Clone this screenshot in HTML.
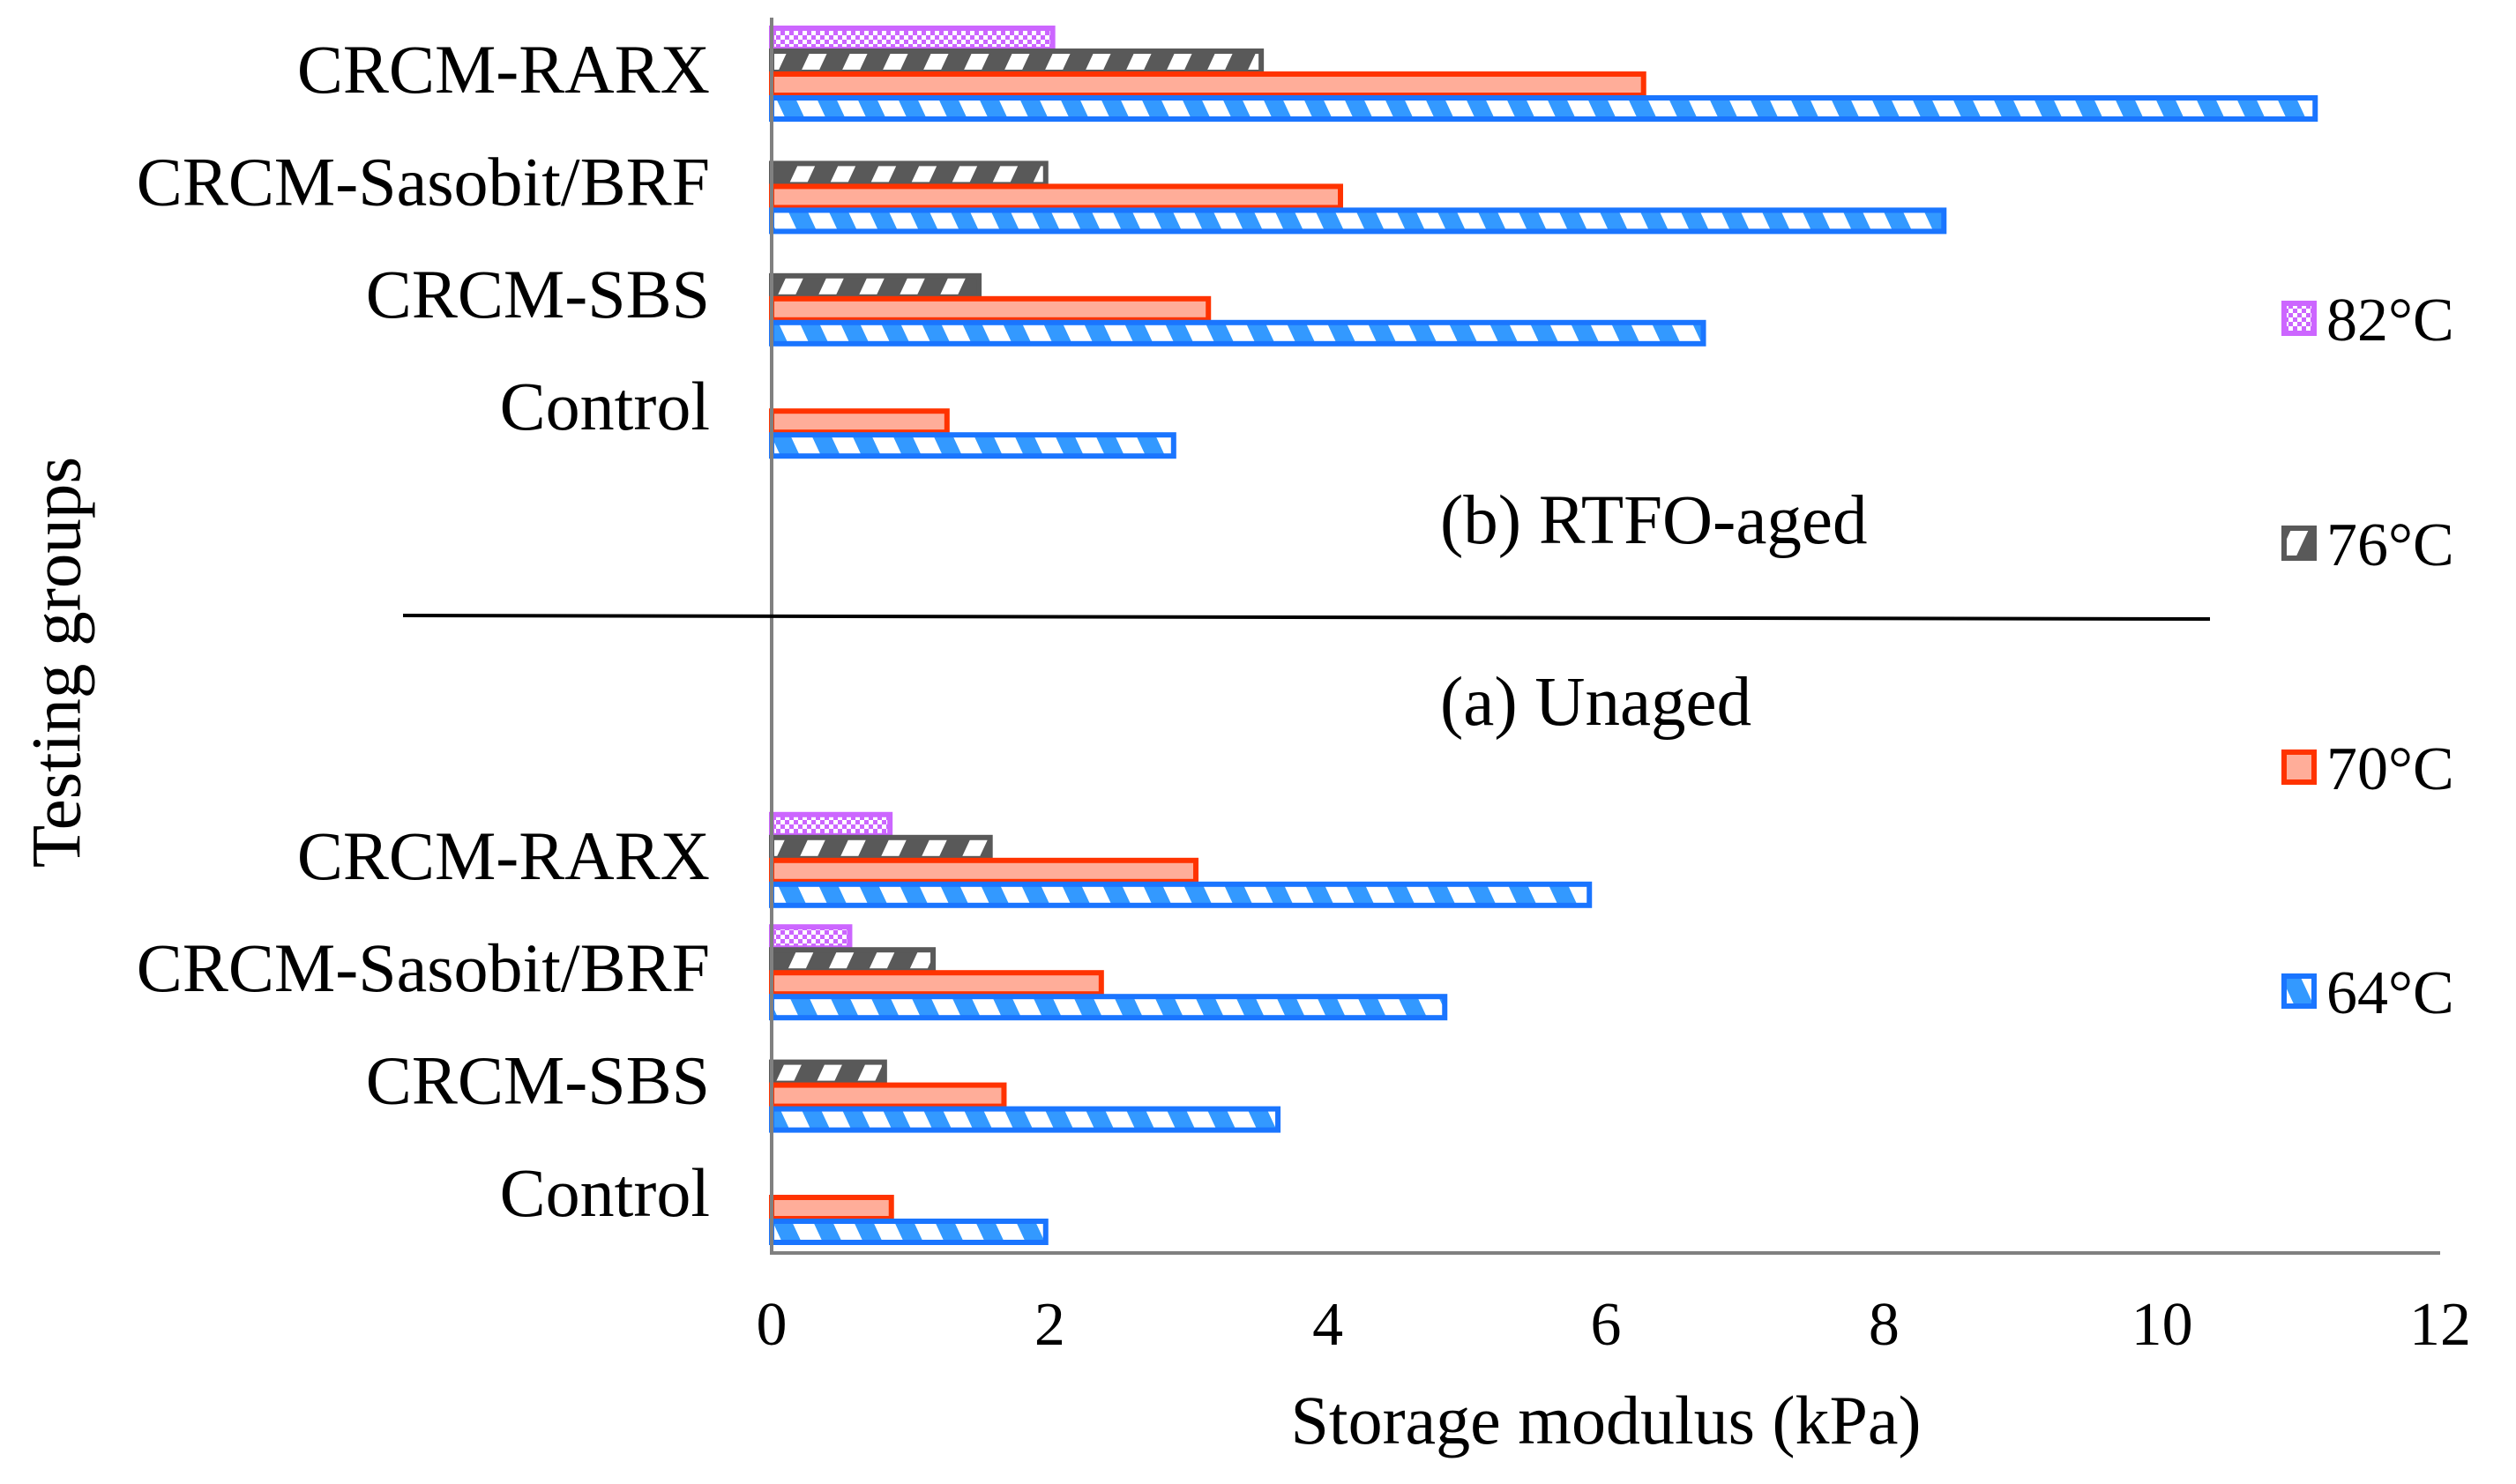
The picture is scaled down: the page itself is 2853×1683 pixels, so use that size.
<!DOCTYPE html>
<html><head><meta charset="utf-8"><style>
html,body{margin:0;padding:0;background:#fff;}
svg{display:block;font-family:"Liberation Serif","DejaVu Serif",serif;}
</style></head>
<body>
<svg id="chart" width="2853" height="1683" viewBox="0 0 2853 1683" xmlns="http://www.w3.org/2000/svg">
<defs>
<pattern id="p64" patternUnits="userSpaceOnUse" width="46" height="30" patternTransform="skewX(25)">
<rect width="46" height="30" fill="#fff"/><rect x="0" width="22" height="30" fill="#3399ff"/></pattern>
<pattern id="p76" patternUnits="userSpaceOnUse" width="46" height="30" patternTransform="skewX(-25)">
<rect width="46" height="30" fill="#fff"/><rect x="0" width="26" height="30" fill="#595959"/></pattern>
<pattern id="p82" patternUnits="userSpaceOnUse" width="10" height="10">
<rect width="10" height="10" fill="#fff"/><rect width="5" height="5" fill="#cc66ff"/><rect x="5" y="5" width="5" height="5" fill="#cc66ff"/></pattern>
</defs>
<g id="bars"></g>
<g id="axes"></g>
<text x="65" y="751" font-size="79" text-anchor="middle" transform="rotate(-90 65 751)" dominant-baseline="central">Testing groups</text>
<text x="1821" y="1637" font-size="78" text-anchor="middle">Storage modulus (kPa)</text>
<line x1="457" y1="698" x2="2506" y2="702" stroke="#000" stroke-width="4"/>
<text x="1633" y="616" font-size="79">(b) RTFO-aged</text>
<text x="1633" y="822" font-size="79">(a) Unaged</text>
<g id="legend"></g>
<script>
const categories = ["CRCM-RARX","CRCM-Sasobit/BRF","CRCM-SBS","Control","","","","CRCM-RARX","CRCM-Sasobit/BRF","CRCM-SBS","Control"];
const seriesNames = ["82°C","76°C","70°C","64°C"];
const v82 = [2.04, 0, 0, 0, 0, 0, 0, 0.87, 0.58, 0, 0];
const v76 = [3.54, 1.99, 1.51, 0, 0, 0, 0, 1.59, 1.18, 0.83, 0];
const v70 = [6.29, 4.11, 3.16, 1.28, 0, 0, 0, 3.07, 2.39, 1.69, 0.88];
const v64 = [11.12, 8.45, 6.72, 2.91, 0, 0, 0, 5.90, 4.86, 3.66, 1.99];
const xTicks = [0,2,4,6,8,10,12];

const NS="http://www.w3.org/2000/svg";
const X0=875, X1=2767, XMAX=12, TOP=29, BAND=127.4;
const xs = v => X0 + (X1-X0)*v/XMAX;
const ys = i => TOP + i*BAND;
const styles=[{fill:"url(#p82)",stroke:"#cc66ff",off:0},{fill:"url(#p76)",stroke:"#595959",off:26},{fill:"#ffad99",stroke:"#ff3300",off:52},{fill:"url(#p64)",stroke:"#1a75ff",off:79}];
const series=[v82,v76,v70,v64];
const bars=document.getElementById('bars');
series.forEach((arr,s)=>{
  arr.forEach((v,i)=>{
    if(!v) return;
    const r=document.createElementNS(NS,'rect');
    r.setAttribute('x',X0); r.setAttribute('y',ys(i)+styles[s].off+3);
    r.setAttribute('width',xs(v)-X0-3); r.setAttribute('height',24);
    r.setAttribute('fill',styles[s].fill); r.setAttribute('stroke',styles[s].stroke); r.setAttribute('stroke-width',6);
    
    
    bars.appendChild(r);
  });
});
const axes=document.getElementById('axes');
function mk(tag,attrs,parent){const e=document.createElementNS(NS,tag);for(const k in attrs)e.setAttribute(k,attrs[k]);parent.appendChild(e);return e;}
const yl=mk('line',{x1:X0,y1:20,x2:X0,y2:1421,stroke:'#808080','stroke-width':4},axes);


const xl=mk('line',{x1:X0-2,y1:1421,x2:X1,y2:1421,stroke:'#808080','stroke-width':4},axes);


xTicks.forEach(t=>{
  const e=mk('text',{x:xs(t),y:1525,'font-size':70,'text-anchor':'middle'},axes);
  e.textContent=t;
  
  
});
categories.forEach((c,i)=>{
  if(!c) return;
  const e=mk('text',{x:805,y:ys(i)+76,'font-size':78,'text-anchor':'end'},axes);
  e.textContent=c;
  
  
});
const leg=document.getElementById('legend');
const legY=[341,596,850,1104];
seriesNames.forEach((n,s)=>{
  const r=mk('rect',{x:2590,y:legY[s]+3,width:34,height:34,fill:styles[s].fill,stroke:styles[s].stroke,'stroke-width':6},leg);
  
  
  const t=mk('text',{x:2638,y:legY[s]+45,'font-size':70},leg);
  t.textContent=n;
  
  
});
</script>
</svg>
</body></html>
